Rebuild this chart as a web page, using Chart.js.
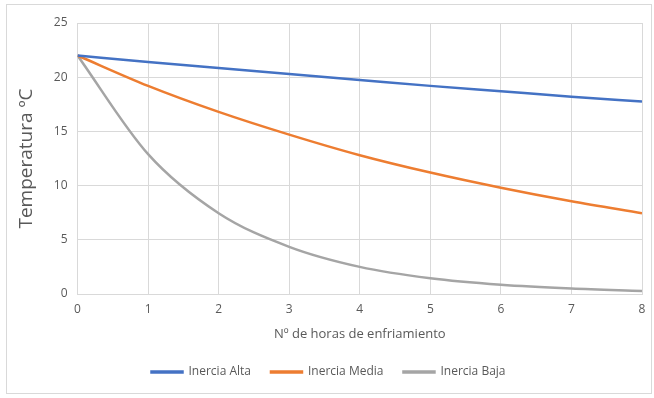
<!DOCTYPE html>
<html>
<head>
<meta charset="utf-8">
<script src="https://cdn.jsdelivr.net/npm/chart.js@4/dist/chart.umd.min.js"></script>
<style>
  body { margin: 0; background: #fff; }
  #wrap { position: relative; width: 654px; height: 398px; }
  #frame { position: absolute; left: 6px; top: 4px; width: 644px; height: 388px; border: 1px solid #d9d9d9; }
  canvas { position: absolute; left: 0; top: 0; }
</style>
</head>
<body>
<div id="wrap">
  <div id="frame"></div>
  <canvas id="chart" width="654" height="398"></canvas>
</div>
<script>
// horas de enfriamiento
var horas = [0, 1, 2, 3, 4, 5, 6, 7, 8];
// temperatura (ºC)
var inerciaAlta  = [22, 21.4, 20.85, 20.3, 19.75, 19.2, 18.7, 18.2, 17.75];
var inerciaMedia = [22, 19.2, 16.8, 14.7, 12.8, 11.2, 9.8, 8.55, 7.45];
var inerciaBaja  = [22, 12.9, 7.45, 4.35, 2.5, 1.45, 0.85, 0.5, 0.28];

var nombres = ['Inercia Alta', 'Inercia Media', 'Inercia Baja'];
var colores = ['#4472c4', '#ed7d31', '#a5a5a5'];

function puntos(arr) {
  return horas.map(function (h, i) { return { x: h, y: arr[i] }; });
}

var gris = '#595959';
var fuente = "'Open Sans', 'Liberation Sans', sans-serif";

var series = [inerciaAlta, inerciaMedia, inerciaBaja];
var datasets = series.map(function (s, i) {
  return {
    label: nombres[i],
    data: puntos(s),
    borderColor: colores[i],
    backgroundColor: colores[i],
    borderWidth: 2.5,
    pointRadius: 0,
    cubicInterpolationMode: 'monotone',
    fill: false
  };
});

var myChart = new Chart(document.getElementById('chart'), {
  type: 'line',
  data: { datasets: datasets },
  options: {
    responsive: false,
    animation: false,
    layout: { padding: { left: 15, right: 12, top: 23, bottom: 10 } },
    plugins: {
      legend: {
        position: 'bottom',
        labels: {
          color: gris,
          font: { family: fuente, size: 12 },
          boxWidth: 31,
          boxHeight: 1,
          padding: 20
        }
      },
      tooltip: { enabled: false }
    },
    scales: {
      x: {
        type: 'linear',
        min: 0, max: 8,
        ticks: { stepSize: 1, color: gris, font: { family: fuente, size: 12 }, padding: 8 },
        grid: { color: '#d9d9d9', lineWidth: 1, drawTicks: false },
        border: { color: '#d9d9d9' },
        title: { display: true, text: 'Nº de horas de enfriamiento', color: gris, font: { family: fuente, size: 13 }, padding: { top: 2, bottom: 4 } }
      },
      y: {
        min: 0, max: 25,
        ticks: { stepSize: 5, color: gris, font: { family: fuente, size: 12 }, padding: 10 },
        grid: { color: '#d9d9d9', lineWidth: 1, drawTicks: false },
        border: { color: '#d9d9d9' },
        title: { display: true, text: 'Temperatura ºC', color: gris, font: { family: fuente, size: 19 }, padding: { top: 0, bottom: 6 } }
      }
    }
  }
});
</script>
</body>
</html>
